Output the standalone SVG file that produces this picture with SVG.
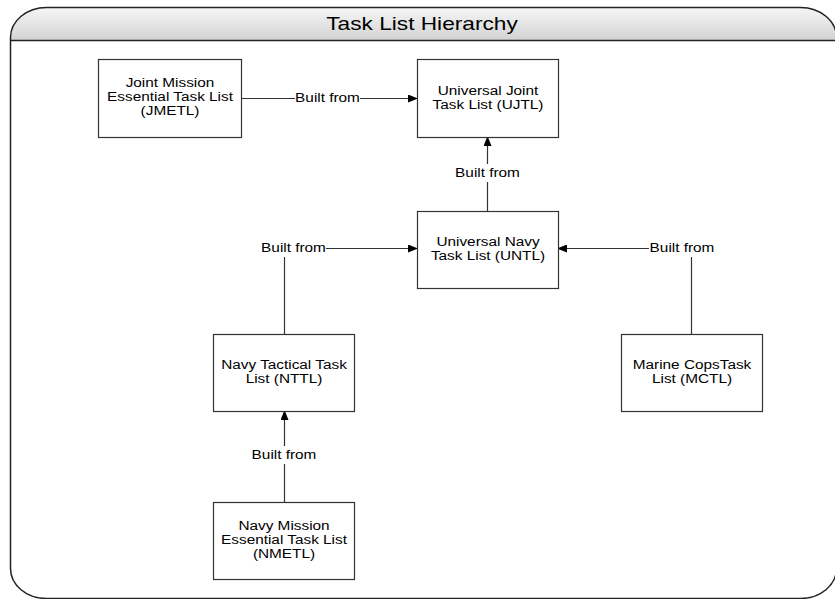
<svg xmlns="http://www.w3.org/2000/svg" width="835" height="599" viewBox="0 0 835 599">
<defs>
<linearGradient id="hdr" x1="0" y1="0" x2="0" y2="1">
<stop offset="0" stop-color="#f6f6f6"/>
<stop offset="1" stop-color="#d2d2d2"/>
</linearGradient>
<clipPath id="fc"><rect x="10.5" y="7.5" width="826" height="591" rx="36" ry="30"/></clipPath>
<marker id="ah" markerWidth="10" markerHeight="8" refX="9" refY="4" orient="auto" markerUnits="userSpaceOnUse">
<path d="M0,0 L10,4 L0,8 Z" fill="#000"/>
</marker>
<style>
.box{fill:#fff;stroke:#333;stroke-width:1.2}
.t{font-family:"Liberation Sans",Arial,sans-serif;font-size:12px;fill:#000;text-anchor:middle}
.c{fill:none;stroke:#333;stroke-width:1.2}
</style>
</defs>
<g id="frame">
<rect x="10.5" y="7.5" width="826" height="33" fill="url(#hdr)" clip-path="url(#fc)"/>
<line x1="10.5" y1="40.5" x2="835" y2="40.5" stroke="#222" stroke-width="1.5"/>
<rect x="10.5" y="7.5" width="826" height="591" rx="36" ry="30" fill="none" stroke="#222" stroke-width="1.5"/>
<text transform="translate(422,0) scale(1.26,1)" x="0" y="30" font-family="'Liberation Sans',Arial,sans-serif" font-size="18" text-anchor="middle" fill="#000">Task List Hierarchy</text>
</g>
<g id="connectors">
<line class="c" x1="242" y1="98.5" x2="295" y2="98.5"/>
<line class="c" x1="360" y1="98.5" x2="417" y2="98.5" marker-end="url(#ah)"/>
<text class="t" transform="translate(327.5,0) scale(1.28,1)" x="0" y="102.5">Built from</text>
<line class="c" x1="487.5" y1="211" x2="487.5" y2="182"/>
<line class="c" x1="487.5" y1="164" x2="487.5" y2="137" marker-end="url(#ah)"/>
<text class="t" transform="translate(487.5,0) scale(1.28,1)" x="0" y="177">Built from</text>
<line class="c" x1="284.5" y1="334" x2="284.5" y2="257"/>
<line class="c" x1="326" y1="248.5" x2="417" y2="248.5" marker-end="url(#ah)"/>
<text class="t" transform="translate(293.5,0) scale(1.28,1)" x="0" y="252.5">Built from</text>
<line class="c" x1="691.5" y1="334" x2="691.5" y2="257"/>
<line class="c" x1="649" y1="248.5" x2="558" y2="248.5" marker-end="url(#ah)"/>
<text class="t" transform="translate(682,0) scale(1.28,1)" x="0" y="252.5">Built from</text>
<line class="c" x1="284.5" y1="502" x2="284.5" y2="464"/>
<line class="c" x1="284.5" y1="446" x2="284.5" y2="411" marker-end="url(#ah)"/>
<text class="t" transform="translate(284,0) scale(1.28,1)" x="0" y="459">Built from</text>
</g>
<g id="jmetl">
<rect class="box" x="98.5" y="59.5" width="143" height="78"/>
<text class="t" transform="translate(170,0) scale(1.28,1)" x="0" y="87.5">Joint Mission</text>
<text class="t" transform="translate(170,0) scale(1.28,1)" x="0" y="101.5">Essential Task List</text>
<text class="t" transform="translate(170,0) scale(1.28,1)" x="0" y="115.5">(JMETL)</text>
</g>
<g id="ujtl">
<rect class="box" x="417.5" y="59.5" width="141" height="78"/>
<text class="t" transform="translate(488,0) scale(1.28,1)" x="0" y="95.5">Universal Joint</text>
<text class="t" transform="translate(488,0) scale(1.28,1)" x="0" y="109.5">Task List (UJTL)</text>
</g>
<g id="untl">
<rect class="box" x="417.5" y="211.5" width="141" height="77"/>
<text class="t" transform="translate(488,0) scale(1.28,1)" x="0" y="246.5">Universal Navy</text>
<text class="t" transform="translate(488,0) scale(1.28,1)" x="0" y="260.5">Task List (UNTL)</text>
</g>
<g id="nttl">
<rect class="box" x="213.5" y="334.5" width="141" height="77"/>
<text class="t" transform="translate(284,0) scale(1.28,1)" x="0" y="369.5">Navy Tactical Task</text>
<text class="t" transform="translate(284,0) scale(1.28,1)" x="0" y="383.5">List (NTTL)</text>
</g>
<g id="mctl">
<rect class="box" x="621.5" y="334.5" width="141" height="77"/>
<text class="t" transform="translate(692,0) scale(1.28,1)" x="0" y="369.5">Marine CopsTask</text>
<text class="t" transform="translate(692,0) scale(1.28,1)" x="0" y="383.5">List (MCTL)</text>
</g>
<g id="nmetl">
<rect class="box" x="213.5" y="502.5" width="141" height="77"/>
<text class="t" transform="translate(284,0) scale(1.28,1)" x="0" y="530.5">Navy Mission</text>
<text class="t" transform="translate(284,0) scale(1.28,1)" x="0" y="544.5">Essential Task List</text>
<text class="t" transform="translate(284,0) scale(1.28,1)" x="0" y="558.5">(NMETL)</text>
</g>
</svg>
